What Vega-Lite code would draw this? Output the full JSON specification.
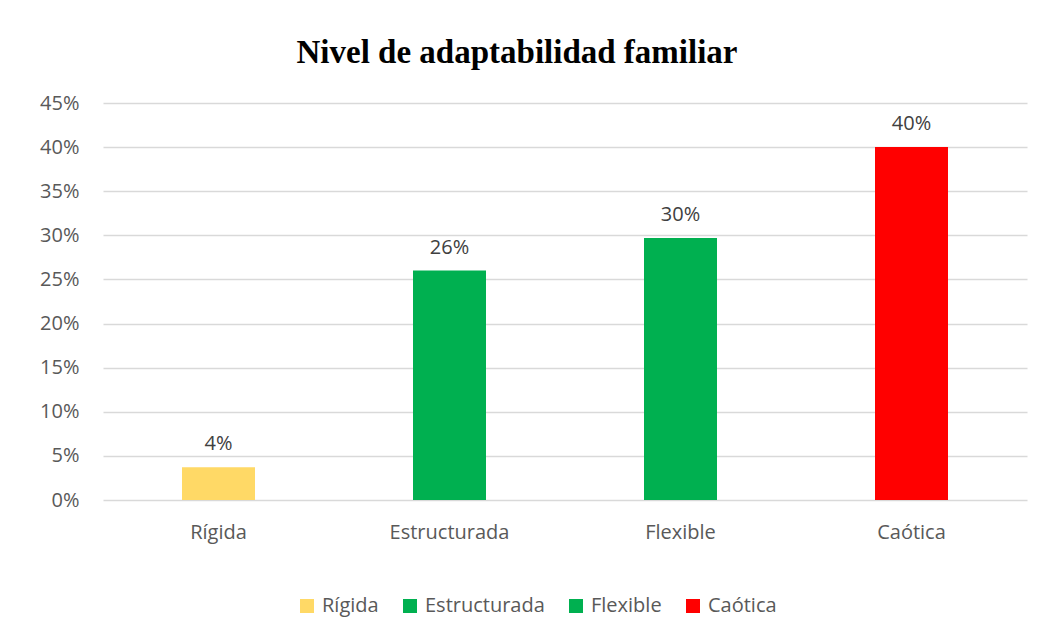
{
  "$schema": "https://vega.github.io/schema/vega-lite/v6.json",
  "width": 924,
  "height": 397,
  "autosize": {"type": "none"},
  "padding": {"left": 103, "top": 103, "right": 16, "bottom": 136},
  "background": "white",
  "title": {
    "text": "Nivel de adaptabilidad familiar",
    "font": "Liberation Serif",
    "fontSize": 33,
    "fontWeight": "bold",
    "color": "#000000",
    "anchor": "middle",
    "dx": -48,
    "offset": 23
  },
  "data": {
    "values": [
      {"nivel": "Rígida", "pct": 0.037},
      {"nivel": "Estructurada", "pct": 0.26},
      {"nivel": "Flexible", "pct": 0.297},
      {"nivel": "Caótica", "pct": 0.40}
    ]
  },
  "encoding": {
    "x": {
      "field": "nivel",
      "type": "nominal",
      "sort": ["Rígida", "Estructurada", "Flexible", "Caótica"],
      "scale": {"paddingInner": 0.684, "paddingOuter": 0.342},
      "axis": {
        "title": null,
        "labelAngle": 0,
        "ticks": false,
        "domain": false,
        "labelPadding": 22,
        "labelFont": "Open Sans",
        "labelFontSize": 20,
        "labelColor": "#595959"
      }
    },
    "y": {
      "field": "pct",
      "type": "quantitative",
      "scale": {"domain": [0, 0.45], "nice": false},
      "axis": {
        "title": null,
        "format": ".0%",
        "values": [0, 0.05, 0.1, 0.15, 0.2, 0.25, 0.3, 0.35, 0.4, 0.45],
        "ticks": false,
        "domain": false,
        "grid": true,
        "gridColor": "#d9d9d9",
        "gridWidth": 1.5,
        "labelPadding": 24,
        "labelFont": "Open Sans",
        "labelFontSize": 20,
        "labelColor": "#595959"
      }
    }
  },
  "layer": [
    {
      "mark": {"type": "bar"},
      "encoding": {
        "color": {
          "field": "nivel",
          "type": "nominal",
          "scale": {
            "domain": ["Rígida", "Estructurada", "Flexible", "Caótica"],
            "range": ["#FFD966", "#00B050", "#00B050", "#FF0000"]
          },
          "legend": {
            "title": null,
            "orient": "none",
            "legendX": 194,
            "legendY": 493,
            "direction": "horizontal",
            "columns": 4,
            "symbolType": "square",
            "symbolSize": 196,
            "symbolStrokeWidth": 0,
            "symbolOpacity": 1,
            "labelFont": "Open Sans",
            "labelFontSize": 20,
            "labelColor": "#595959",
            "labelOffset": 5,
            "columnPadding": 21
          }
        }
      }
    },
    {
      "mark": {
        "type": "text",
        "baseline": "bottom",
        "dy": -13,
        "font": "Open Sans",
        "fontSize": 20,
        "color": "#404040"
      },
      "encoding": {
        "text": {"field": "pct", "type": "quantitative", "format": ".0%"}
      }
    }
  ],
  "config": {
    "view": {"stroke": null}
  }
}
